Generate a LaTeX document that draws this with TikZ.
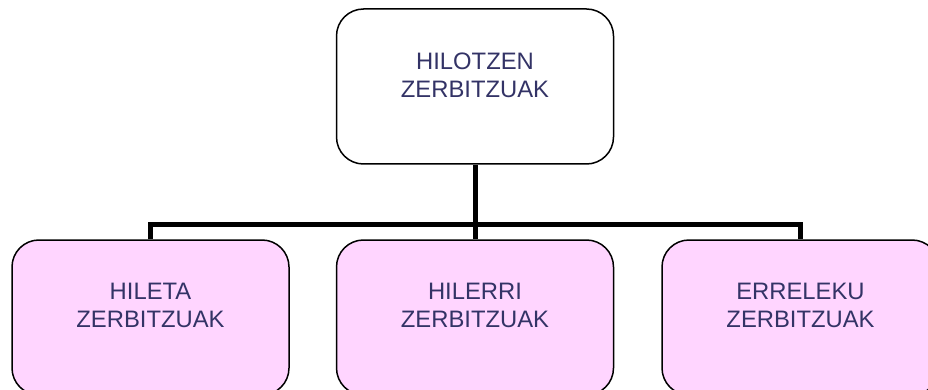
\documentclass[tikz,border=0pt]{standalone}
\usepackage{fontspec}
\setmainfont{Liberation Sans}
\usetikzlibrary{positioning}
\definecolor{unittext}{RGB}{51,51,102}
\definecolor{unitpink}{RGB}{255,213,255}
\tikzset{
  unit/.style={draw=black, line width=1.5pt, rounded corners=27pt,
    minimum width=277pt, minimum height=155pt, inner sep=0pt},
  unit label/.style={text=unittext, font=\fontsize{23.8}{28}\selectfont,
    align=center, inner sep=0pt, anchor=north, yshift=-44pt},
  branch/.style={line width=5pt, line join=miter}
}
\begin{document}
\begin{tikzpicture}[x=1pt, y=-1pt]
  \useasboundingbox (0,0) rectangle (928,390);
  % boxes
  \node[unit, fill=white] (top) at (475,86.5) {};
  \node[unit, fill=unitpink] (hileta) at (150.5,317.5) {};
  \node[unit, fill=unitpink] (hilerri) at (475,317.5) {};
  \node[unit, fill=unitpink] (erreleku) at (800.5,317.5) {};
  % texts
  \node[unit label] (topL) at (top.north) {HILOTZEN\\ZERBITZUAK};
  \node[unit label] (hiletaL) at (hileta.north) {HILETA\\ZERBITZUAK};
  \node[unit label] (hilerriL) at (hilerri.north) {HILERRI\\ZERBITZUAK};
  \node[unit label] (errelekuL) at (erreleku.north) {ERRELEKU\\ZERBITZUAK};
  % connectors
  \coordinate (bar) at (475,224);
  \draw[branch] (top.south) -- (hilerri.north);
  \draw[branch] (hileta.north) -- (hileta.north |- bar)
    -- (erreleku.north |- bar) -- (erreleku.north);
\end{tikzpicture}
\end{document}
